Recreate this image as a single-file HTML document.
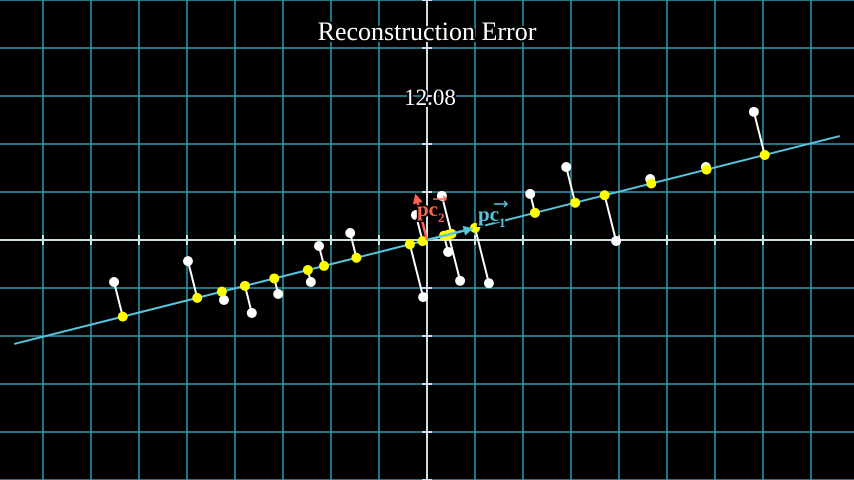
<!DOCTYPE html>
<html><head><meta charset="utf-8"><style>
html,body{margin:0;padding:0;background:#000;width:854px;height:480px;overflow:hidden}
svg{display:block}
text{font-family:"Liberation Serif",serif}
</style></head><body>
<svg id="c" width="854" height="480" viewBox="0 0 854 480">
<rect width="854" height="480" fill="#000"/>
<g id="grid"></g><g id="axes"></g><g id="marks"></g><g id="vecs"></g>
<text x="427" y="40" text-anchor="middle" font-size="26" fill="#fff" stroke="#000" stroke-width="4" paint-order="stroke">Reconstruction Error</text>
<text x="430" y="105" text-anchor="middle" font-size="23" fill="#fff" stroke="#000" stroke-width="4" paint-order="stroke">12.08</text>
</svg>
<script>
const pointsX=[-6.52,-4.98,-4.23,-3.65,-3.10,-2.42,-2.25,-1.60,-0.23,-0.08,0.31,0.44,0.69,1.29,2.15,2.90,3.94,4.65,5.81,6.81];
const pointsY=[-0.875,-0.44,-1.25,-1.52,-1.125,-0.875,-0.125,0.146,0.52,-1.19,0.92,-0.25,-0.85,-0.90,0.96,1.52,-0.02,1.27,1.52,2.67];
const pcSlope=0.2518;
const NS='http://www.w3.org/2000/svg';
const U=48,CX=427,CY=240;
const sx=x=>CX+x*U, sy=y=>CY-y*U;
function mk(tag,attrs,parent){const e=document.createElementNS(NS,tag);for(const k in attrs)e.setAttribute(k,attrs[k]);parent.appendChild(e);return e;}
const grid=document.getElementById('grid'),axes=document.getElementById('axes'),marks=document.getElementById('marks'),vecs=document.getElementById('vecs');
for(let i=-9;i<=9;i++){const l=mk('line',{x1:sx(i),y1:0,x2:sx(i),y2:480,stroke:'#2a9ab0','stroke-width':1.5},grid);
}
for(let j=-5;j<=5;j++){const l=mk('line',{x1:0,y1:sy(j),x2:854,y2:sy(j),stroke:'#2a9ab0','stroke-width':1.5},grid);
}
let a=mk('line',{x1:0,y1:CY,x2:854,y2:CY,stroke:'#cfe0e4','stroke-width':2},axes);

a=mk('line',{x1:CX,y1:0,x2:CX,y2:480,stroke:'#cfe0e4','stroke-width':2},axes);

for(let i=-9;i<=9;i++){if(!i)continue;const t=mk('line',{x1:sx(i),y1:CY-5,x2:sx(i),y2:CY+5,stroke:'#cfe0e4','stroke-width':2},axes);
}
for(let j=-5;j<=5;j++){if(!j)continue;const t=mk('line',{x1:CX-5,y1:sy(j),x2:CX+5,y2:sy(j),stroke:'#cfe0e4','stroke-width':2},axes);
}
const n=Math.hypot(1,pcSlope),ux=1/n,uy=pcSlope/n;
let pl=mk('line',{x1:sx(-8.6),y1:sy(-8.6*pcSlope),x2:sx(8.6),y2:sy(8.6*pcSlope),stroke:'#58c4dd','stroke-width':2},marks);

const proj=pointsX.map((x,i)=>{const d=x*ux+pointsY[i]*uy;return [d*ux,d*uy];});
pointsX.forEach((x,i)=>{const l=mk('line',{x1:sx(x),y1:sy(pointsY[i]),x2:sx(proj[i][0]),y2:sy(proj[i][1]),stroke:'#fff','stroke-width':2},marks);
});
pointsX.forEach((x,i)=>{const c=mk('circle',{cx:sx(x),cy:sy(pointsY[i]),r:5,fill:'#fff'},marks);
});
proj.forEach(p=>{const c=mk('circle',{cx:sx(p[0]),cy:sy(p[1]),r:5,fill:'#ffff00'},marks);
});
function arrow(dx,dy,col,name){const x2=sx(dx),y2=sy(dy),L=Math.hypot(x2-CX,y2-CY),ex=(x2-CX)/L,ey=(y2-CY)/L,h=10,w=5;
const bx=x2-ex*h,by=y2-ey*h;
const g=mk('g',{},vecs);
mk('line',{x1:CX,y1:CY,x2:bx,y2:by,stroke:col,'stroke-width':2.5},g);
mk('polygon',{points:`${x2},${y2} ${bx-ey*w},${by+ex*w} ${bx+ey*w},${by-ex*w}`,fill:col},g);}
arrow(ux,uy,'#58c4dd','pc1-arrow');arrow(-uy,ux,'#fc6255','pc2-arrow');
let t=mk('text',{x:417,y:216,'font-size':21,'font-weight':'bold',fill:'#fc6255',stroke:'#000','stroke-width':3,'paint-order':'stroke'},vecs);
t.innerHTML='pc<tspan font-size="13" dy="6">2</tspan>';
t=mk('text',{x:478,y:221,'font-size':21,'font-weight':'bold',fill:'#58c4dd',stroke:'#000','stroke-width':3,'paint-order':'stroke'},vecs);
t.innerHTML='pc<tspan font-size="13" dy="6">1</tspan>';
let v=mk('path',{d:'M433 199 L446 199 M443 196 L446 199 L443 202',stroke:'#fc6255','stroke-width':1.5,fill:'none'},vecs);

v=mk('path',{d:'M494 204 L507 204 M504 201 L507 204 L504 207',stroke:'#58c4dd','stroke-width':1.5,fill:'none'},vecs);

</script>
</body></html>
